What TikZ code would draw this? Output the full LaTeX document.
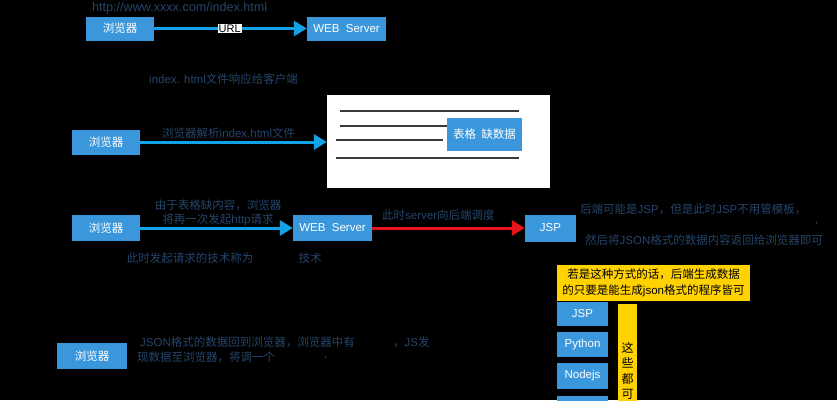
\documentclass[tikz,border=0pt]{standalone}
\usepackage{fontspec}
\setmainfont{Liberation Sans}
\newfontfamily\cjk{Noto Sans CJK SC}
\newcommand\zh[1]{{\cjk #1}}
\usetikzlibrary{arrows.meta}
\definecolor{boxblue}{HTML}{3A97DC}
\definecolor{arrcyan}{HTML}{12A3E6}
\definecolor{navy}{HTML}{25456A}
\definecolor{redarr}{HTML}{E8141C}
\definecolor{ybox}{HTML}{FFD200}
\definecolor{linegray}{HTML}{3A3A3A}
\begin{document}
\begin{tikzpicture}[x=1pt,y=-1pt,
  bbox/.style={fill=boxblue, text=white, inner sep=0pt, font=\fontsize{11.5}{13}\selectfont},
  note/.style={text=navy, inner sep=0pt, anchor=west, font=\fontsize{11.5}{13}\selectfont},
  carrow/.style={draw=arrcyan, line width=3pt, -{Triangle[length=13pt,width=15pt]}},
  rarrow/.style={draw=redarr, line width=3pt, -{Triangle[length=13pt,width=15pt]}},
  pline/.style={draw=linegray, line width=1.3pt}
]
\useasboundingbox (0,0) rectangle (837,400);
\fill[black] (0,0) rectangle (837,400);
\clip (0,0) rectangle (837,400);

% Row 1
\node[note, font=\fontsize{12.6}{14}\selectfont] (t1) at (92,8) {http://www.xxxx.com/index.html};
\node[bbox, minimum width=68pt, minimum height=24pt] (b1) at (120,28.5) {\zh{浏览器}};
\node[bbox, minimum width=79pt, minimum height=24pt] (w1) at (346.5,28.5) {WEB\ \ Server};
\draw[carrow] (b1) -- (w1) node[pos=0.495, fill=white, text=black, inner sep=1pt, font=\fontsize{11}{12}\selectfont] (u1) {URL};

\node[note] (t2) at (149,79) {index. html\zh{文件响应给客户端}};

% Row 2
\node[bbox, minimum width=68pt, minimum height=25pt] (b2) at (106,142) {\zh{浏览器}};
\node[fill=white, minimum width=223pt, minimum height=93pt, inner sep=0pt] (page) at (438.5,141.5) {};
\draw[carrow] (b2) -- (page.west |- b2);
\node[note] (t3) at (162,133) {\zh{浏览器解析}index.html\zh{文件}};
\draw[pline] (340,111) -- (519,111);
\draw[pline] (340,126) -- (450,126);
\draw[pline] (336,140) -- (443,140);
\draw[pline] (336,158) -- (519,158);
\node[bbox, minimum width=75pt, minimum height=33pt] (miss) at (484.5,134.5) {\zh{表格\ \ 缺数据}};

% Row 3
\node[bbox, minimum width=68pt, minimum height=26pt] (b3) at (106,228) {\zh{浏览器}};
\node[bbox, minimum width=79pt, minimum height=26pt] (w3) at (332.5,228) {WEB\ \ Server};
\node[bbox, minimum width=51pt, minimum height=27pt] (jsp1) at (550.5,228) {JSP};
\draw[carrow] (b3) -- (w3);
\draw[rarrow] (w3) -- (jsp1);
\node[note, anchor=center] (t4) at (218,205.5) {\zh{由于表格缺内容，浏览器}};
\node[note, anchor=center] (t5) at (218,220) {\zh{将再一次发起}http\zh{请求}};
\node[note, anchor=center] (t6) at (190,258) {\zh{此时发起请求的技术称为}};
\node[note, anchor=center] (t7) at (310,258) {\zh{技术}};
\node[note] (t8) at (382,215) {\zh{此时}server\zh{向后端调度}};
\node[note] (t9) at (580,209) {\zh{后端可能是}JSP\zh{，但是此时}JSP\zh{不用管模板，}};
\node[note] (t10) at (815,224) {,};
\node[note] (t11) at (585,240) {\zh{然后将}JSON\zh{格式的数据内容返回给浏览器即可}};

% yellow note and backend boxes
\node[fill=ybox, minimum width=193pt, minimum height=36pt, inner sep=0pt, align=center, text=black,
      font=\fontsize{11.5}{16}\selectfont] (yn) at (653.5,283)
      {\zh{若是这种方式的话，后端生成数据}\\\zh{的只要是能生成}json\zh{格式的程序皆可}};
\node[bbox, minimum width=51pt, minimum height=24pt] (jsp2) at (582.5,314) {JSP};
\node[bbox, minimum width=51pt, minimum height=25pt] (py) at (582.5,344.5) {Python};
\node[bbox, minimum width=51pt, minimum height=26pt] (nd) at (582.5,376) {Nodejs};
\node[bbox, minimum width=51pt, minimum height=26pt, anchor=north] (more) at (582.5,396) {};
\node[fill=ybox, minimum width=19pt, minimum height=110pt, inner sep=0pt, anchor=north] (ybar) at (627.5,304) {};
\node[text=black, align=center, inner sep=0pt, anchor=north, font=\fontsize{12}{15.5}\selectfont] (yt) at (627.5,342)
      {\zh{这}\\\zh{些}\\\zh{都}\\\zh{可}};

% Row 4
\node[bbox, minimum width=70pt, minimum height=26pt] (b4) at (92,356) {\zh{浏览器}};
\node[note] (t12) at (140,342.5) {JSON\zh{格式的数据回到浏览器，浏览器中有}};
\node[note] (t13) at (393,342.5) {\zh{，}JS\zh{发}};
\node[note] (t14) at (137,357.5) {\zh{现数据至浏览器，将调一个}};
\node[note] (t15) at (324,358) {,};
\end{tikzpicture}
\end{document}
